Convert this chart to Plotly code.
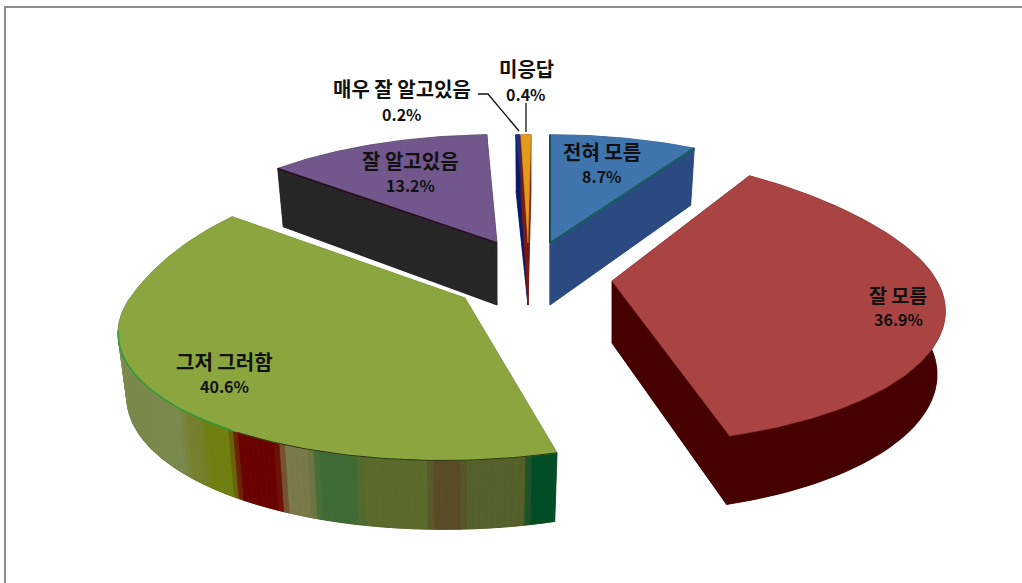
import math
import plotly.graph_objects as go

# ---- data (clockwise from 12 o'clock) ----
categories = ["전혀 모름", "잘 모름", "그저 그러함", "잘 알고있음", "매우 잘 알고있음", "미응답"]
shares = [8.7, 36.9, 40.6, 13.2, 0.2, 0.4]

# ---- styling ----
top_colors = ["#3f74ad", "#a94442", "#8ba53f", "#71578c", "#1c2f80", "#e09a1c"]
wall_colors = ["#2b4a82", "#470000", "#5a6a2a", "#262626", "#0a1a6a", "#7a1a10"]
apex_px = [(550, 243), (612, 281), (465, 298), (497, 243), (528, 243), (528, 243)]
label_px = [(602, 151, 176), (898, 294, 319), (224, 361, 386), (410, 160, 185), (402, 88, 114), (526, 68, 94)]
label_sizes = [20, 19.5, 20, 20, 20, 20]
pct_sizes = [16, 16, 16, 16, 16, 16]
# per-slice projection tweaks: x radius, shear with depth, far-side boost in x and y
rx_px = [325, 325, 335, 325, 390, 488]
shear_px = [0, -8, 22, 0, 0, 3]
boost_x = [0, 0, 0.22, 0, 0, 0]
boost_y = [0, 0.15, 0.22, 0, 0, 0]
draw_order = [3, 4, 5, 0, 2, 1]
green_bands = [(0, "#7d8a4e"), (183, "#77802c"), (203, "#6f8010"), (233, "#6a0000"), (280, "#7a7a48"),
               (313, "#3f6c36"), (357, "#596a2c"), (430, "#5a4a28"), (463, "#55602a"), (527, "#004d26")]

RY, PERSP, WALL, WALL_PERSP, TAPER = 130, 0.2, 62, 0.1, 0.025
fig = go.Figure()


def project(i, theta):
    ax, ay = apex_px[i]
    X, Y = math.sin(theta), math.cos(theta)
    s = 1 / (1 + PERSP * Y)
    far = max(Y, 0) ** 2
    x = ax + rx_px[i] * X * s * (1 + boost_x[i] * far) + shear_px[i] * Y
    y = ay - RY * Y * s * (1 + boost_y[i] * far)
    return x, y, WALL / (1 + WALL_PERSP * Y), x + (ax - x) * TAPER


def poly(xs, ys, color):
    fig.add_trace(go.Scatter(x=xs, y=ys, mode="lines", fill="toself", fillcolor=color,
                             line=dict(color=color, width=0.5), hoverinfo="skip", showlegend=False))


def edge(xs, ys, color, width):
    fig.add_trace(go.Scatter(x=xs, y=ys, mode="lines", line=dict(color=color, width=width),
                             hoverinfo="skip", showlegend=False))


def hex_rgb(c):
    return [int(c[j:j + 2], 16) for j in (1, 3, 5)]


def band_color(x, blend=5):
    idx = 0
    for j, (start, _) in enumerate(green_bands):
        if x >= start:
            idx = j
    col = hex_rgb(green_bands[idx][1])
    if idx + 1 < len(green_bands) and green_bands[idx + 1][0] - x < blend:
        t = 0.5 * (1 - (green_bands[idx + 1][0] - x) / blend)
        nxt = hex_rgb(green_bands[idx + 1][1])
        col = [a + (b - a) * t for a, b in zip(col, nxt)]
    elif idx > 0 and x - green_bands[idx][0] < blend:
        t = 0.5 * (1 - (x - green_bands[idx][0]) / blend)
        prv = hex_rgb(green_bands[idx - 1][1])
        col = [a + (b - a) * t for a, b in zip(col, prv)]
    return "rgb(%d,%d,%d)" % tuple(col)


starts, run = [], 0.0
for v in shares:
    starts.append(run)
    run += v

for i in draw_order:
    a0 = starts[i] / 100 * 2 * math.pi
    a1 = (starts[i] + shares[i]) / 100 * 2 * math.pi
    n = max(3, int(shares[i] * 4))
    arc = [project(i, a0 + (a1 - a0) * k / n) for k in range(n + 1)]
    ax, ay = apex_px[i]
    xs = [ax] + [p[0] for p in arc] + [ax]
    bx = [ax] + [p[3] for p in arc] + [ax]
    ys = [ay] + [p[1] for p in arc] + [ay]
    hs = [WALL] + [p[2] for p in arc] + [WALL]
    wall = wall_colors[i]

    # extruded body: bottom outline, outer strip and the two radial walls
    poly(bx, [y + h for y, h in zip(ys, hs)], wall)
    poly([p[0] for p in arc] + [p[3] for p in reversed(arc)],
         [p[1] for p in arc] + [p[1] + p[2] for p in reversed(arc)], wall)
    for a, b in ((0, 1), (len(xs) - 2, len(xs) - 1)):
        poly([xs[a], xs[b], bx[b], bx[a], xs[a]], [ys[a], ys[b], ys[b] + hs[b], ys[a] + hs[a], ys[a]], wall)

    if i == 2:  # banded outer wall of the large slice
        for k in range(len(arc) - 1):
            p, q = arc[k], arc[k + 1]
            if p[1] < 300 and q[1] < 300:
                continue
            poly([p[0], q[0], q[3], p[3], p[0]], [p[1], q[1], q[1] + q[2], p[1] + p[2], p[1]],
                 band_color((p[0] + q[0]) / 2))

    poly(xs, ys, top_colors[i])

    if i == 0:
        edge([ax, arc[0][0]], [ay, arc[0][1]], "#15505a", 2)
        edge([ax, arc[-1][0]], [ay, arc[-1][1]], "#15605a", 2)
    if i == 2:
        low = [p for p in arc if p[1] > 330]
        edge([p[0] for p in low if p[0] <= 235], [p[1] for p in low if p[0] <= 235], "#2f9a3c", 1.5)
        edge([p[0] for p in low if p[0] > 233], [p[1] for p in low if p[0] > 233], "#2a3410", 1)
    if i == 3:
        edge([ax, arc[0][0]], [ay, arc[0][1]], "#2a0a20", 1.5)

# leader lines
edge([478, 488, 519], [94, 94, 131], "#111111", 1.3)
edge([526, 526], [103, 132], "#111111", 1.3)

for name, v, (lx, y1, y2), fs, ps in zip(categories, shares, label_px, label_sizes, pct_sizes):
    fig.add_annotation(x=lx, y=y1, text=f"<b>{name}</b>", showarrow=False,
                       font=dict(family="Noto Sans CJK KR", size=fs, color="#111111"))
    fig.add_annotation(x=lx, y=y2, text=f"<b>{v}%</b>", showarrow=False,
                       font=dict(family="Noto Sans CJK KR", size=ps, color="#111111"))

fig.add_shape(type="rect", x0=5, y0=7, x1=1040, y1=600, line=dict(color="#8c8c8c", width=2))

fig.update_layout(width=1022, height=583, margin=dict(l=0, r=0, t=0, b=0), paper_bgcolor="white",
                  plot_bgcolor="white", showlegend=False,
                  xaxis=dict(range=[0, 1022], visible=False, fixedrange=True),
                  yaxis=dict(range=[583, 0], visible=False, fixedrange=True))
fig.write_html("out.html", post_script="document.body.style.margin='0';document.body.style.overflow='hidden';",
               config={"displayModeBar": False})
